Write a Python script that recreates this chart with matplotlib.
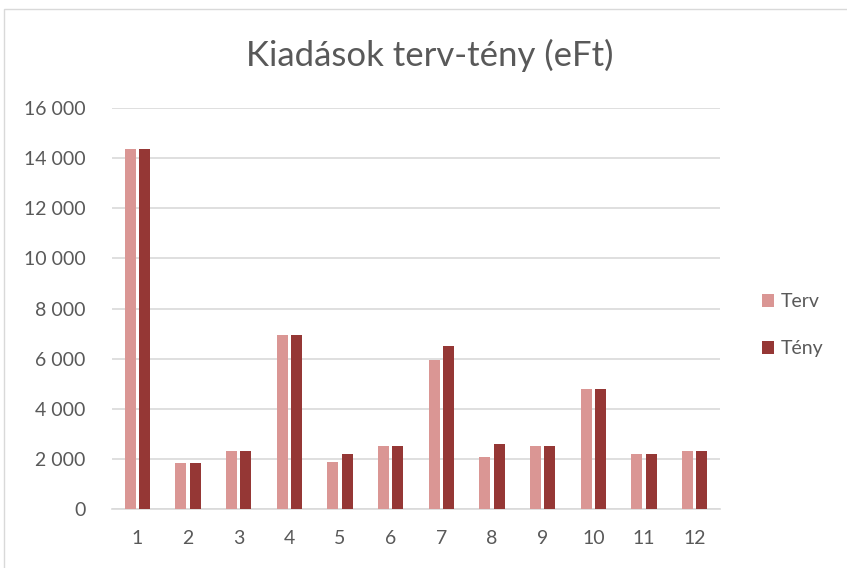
import matplotlib

matplotlib.use("Agg")
import matplotlib.pyplot as plt
import numpy as np
from matplotlib.patches import Rectangle
from matplotlib.ticker import FuncFormatter

months = ["1", "2", "3", "4", "5", "6", "7", "8", "9", "10", "11", "12"]
terv = [14380, 1840, 2300, 6950, 1880, 2500, 5960, 2080, 2530, 4770, 2210, 2320]
teny = [14380, 1840, 2300, 6950, 2200, 2500, 6520, 2590, 2530, 4770, 2210, 2320]

TERV_COLOR = "#DA9694"
TENY_COLOR = "#953735"
TEXT = "#595959"
GRID = "#D9D9D9"

plt.rcParams["font.family"] = ["Lato", "DejaVu Sans"]

fig = plt.figure(figsize=(8.47, 5.68), dpi=100)
ax = fig.add_axes([112 / 847, 1 - 509 / 568, 608 / 847, 401 / 568])

# light chart border like the spreadsheet frame
fig.patches.append(Rectangle((4 / 847, -0.1), 1.2, 1 - 9 / 568 + 0.1,
                             transform=fig.transFigure, fill=False,
                             edgecolor=GRID, lw=1))

x = np.arange(1, len(months) + 1)
w = 0.22
ax.bar(x - 0.14, terv, w, color=TERV_COLOR, label="Terv", zorder=3)
ax.bar(x + 0.14, teny, w, color=TENY_COLOR, label="Tény", zorder=3)

ax.set_xlim(0.5, 12.5)
ax.set_ylim(0, 16000)
ax.set_yticks(range(0, 16001, 2000))
ax.yaxis.set_major_formatter(FuncFormatter(lambda v, _: f"{int(v):,}".replace(",", " ")))
ax.set_xticks(x)
ax.set_xticklabels(months)
ax.grid(axis="y", color=GRID, lw=1.2, zorder=0)
for s in ["top", "right", "left"]:
    ax.spines[s].set_visible(False)
ax.spines["bottom"].set_color(GRID)
ax.spines["bottom"].set_linewidth(1.2)
ax.tick_params(length=0, labelsize=14, colors=TEXT)
ax.tick_params(axis="x", pad=15)
ax.tick_params(axis="y", pad=19)

fig.text(430 / 847, 1 - 55 / 568, "Kiadások terv-tény (eFt)", ha="center", va="center",
         fontsize=25, color=TEXT)

fig.legend(loc="center left", bbox_to_anchor=(744 / 847, 1 - 325 / 568), frameon=False,
           fontsize=14, labelcolor=TEXT, handlelength=0.65, handleheight=0.65,
           handletextpad=0.35, labelspacing=1.55)

fig.savefig("out.png", dpi=100)
